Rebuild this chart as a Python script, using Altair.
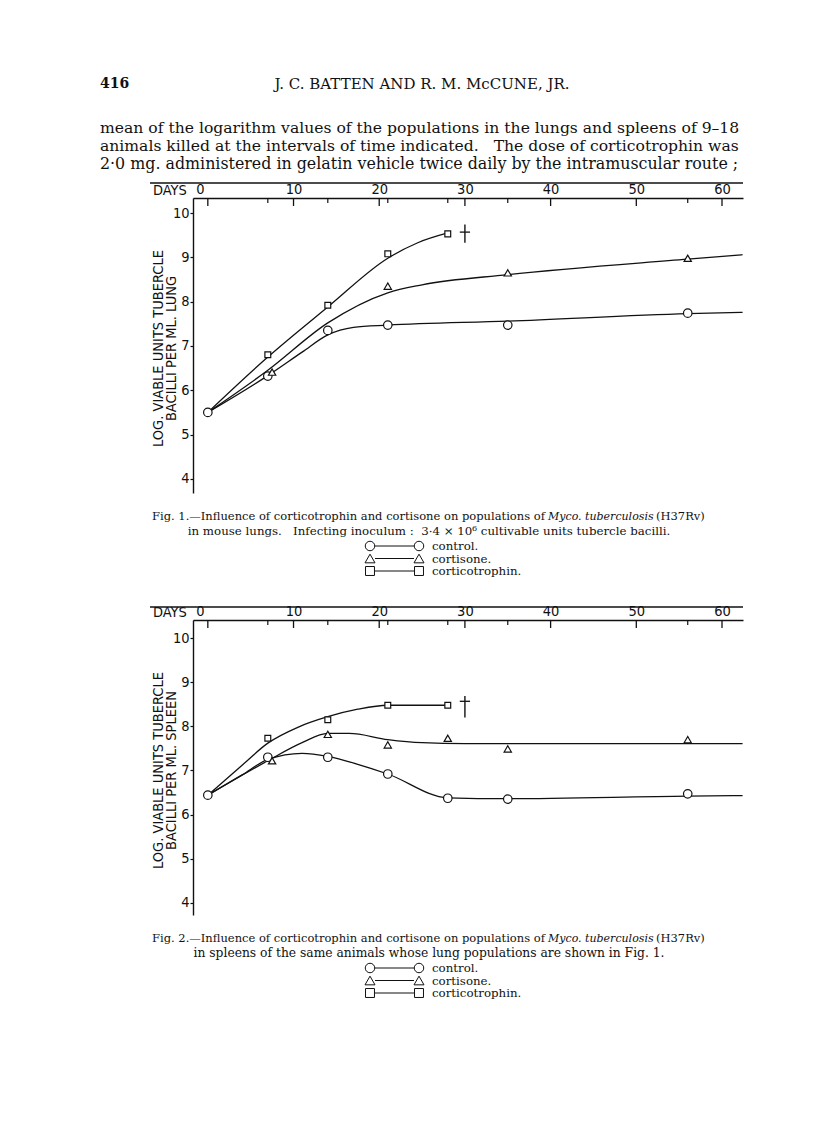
import altair as alt
import pandas as pd

# ---------------- data ----------------
SERIES = ["control", "cortisone", "corticotrophin"]

# Fig. 1 (lungs) – plotted symbols
lung_control_days = [0, 7, 14, 21, 35, 56]
lung_control_vals = [5.50, 6.32, 7.35, 7.47, 7.47, 7.74]
lung_cortisone_days = [7.5, 21, 35, 56]
lung_cortisone_vals = [6.41, 8.35, 8.65, 8.98]
lung_cortico_days = [7, 14, 21, 28]
lung_cortico_vals = [6.80, 7.92, 9.08, 9.53]
# Fig. 1 – hand-drawn curves
lung_control_curve_days = [0, 7, 11, 14, 17, 21, 35, 56, 62.4]
lung_control_curve_vals = [5.50, 6.33, 6.86, 7.25, 7.42, 7.47, 7.56, 7.73, 7.76]
lung_cortisone_curve_days = [0, 7, 14, 21, 25, 35, 56, 62.4]
lung_cortisone_curve_vals = [5.50, 6.45, 7.52, 8.20, 8.38, 8.61, 8.96, 9.06]
lung_cortico_curve_days = [0, 7, 14, 21, 24.5, 28]
lung_cortico_curve_vals = [5.50, 6.75, 7.88, 8.98, 9.33, 9.55]
lung_dagger = {"day": 30, "top": 9.74, "bottom": 9.33, "bar": 9.57}

# Fig. 2 (spleens) – plotted symbols
spleen_control_days = [0, 7, 14, 21, 28, 35, 56]
spleen_control_vals = [6.44, 7.30, 7.30, 6.92, 6.37, 6.35, 6.47]
spleen_cortisone_days = [7.5, 14, 21, 28, 35, 56]
spleen_cortisone_vals = [7.22, 7.82, 7.58, 7.73, 7.49, 7.70]
spleen_cortico_days = [7, 14, 21, 28]
spleen_cortico_vals = [7.73, 8.15, 8.48, 8.48]
# Fig. 2 – hand-drawn curves
spleen_control_curve_days = [0, 4, 7, 11, 14, 17.5, 21, 28, 35, 56, 62.4]
spleen_control_curve_vals = [6.44, 6.90, 7.25, 7.39, 7.32, 7.14, 6.92, 6.38, 6.36, 6.42, 6.43]
spleen_cortisone_curve_days = [0, 7, 11, 14, 16.5, 21, 25, 30, 62.4]
spleen_cortisone_curve_vals = [6.44, 7.22, 7.63, 7.84, 7.84, 7.70, 7.63, 7.61, 7.61]
spleen_cortico_curve_days = [0, 4, 7, 10.5, 14, 17.5, 21, 28]
spleen_cortico_curve_vals = [6.44, 7.12, 7.62, 7.98, 8.22, 8.39, 8.48, 8.48]
spleen_dagger = {"day": 30, "top": 8.69, "bottom": 8.20, "bar": 8.57}

x_label_values = [0, 10, 20, 30, 40, 50, 60]
major_tick_days = [0, 10, 20, 30, 40, 50, 60]
minor_tick_days = [7, 14, 21, 28, 35, 56]
y_label_values = [4, 5, 6, 7, 8, 9, 10]

NB = "\u00a0"
header_number = "416"
header_authors = "J. C. BATTEN AND R. M. McCUNE, JR."
paragraph = [
    "mean of the logarithm values of the populations in the lungs and spleens of 9\u201318",
    "animals killed at the intervals of time indicated." + NB + NB + " The dose of corticotrophin was",
    "2\u00b70 mg. administered in gelatin vehicle twice daily by the intramuscular route ;",
]
fig1_caption = [
    "Fig. 1.\u2014Influence of corticotrophin and cortisone on populations of",
    "Myco. tuberculosis",
    "(H37Rv)",
    "in mouse lungs." + NB + NB + " Infecting inoculum :" + NB + " 3\u00b74 \u00d7 10\u2076 cultivable units tubercle bacilli.",
]
fig2_caption = [
    "Fig. 2.\u2014Influence of corticotrophin and cortisone on populations of",
    "Myco. tuberculosis",
    "(H37Rv)",
    "in spleens of the same animals whose lung populations are shown in Fig. 1.",
]
legend_labels = ["control.", "cortisone.", "corticotrophin."]
lung_title = ["LOG. VIABLE UNITS TUBERCLE", "BACILLI PER ML. LUNG"]
spleen_title = ["LOG. VIABLE UNITS TUBERCLE", "BACILLI PER ML. SPLEEN"]

# ---------------- styling ----------------
INK = "#111111"
SANS = "DejaVu Sans Condensed, Liberation Sans Narrow, Liberation Sans, sans-serif"
SERIF = "DejaVu Serif, serif"
W, H = 550, 295
XDOM = [-1.73, 62.45]
SHAPES = ["circle", "triangle-up", "square"]
SIZES = [72, 34, 40]
ONE = alt.Data(values=[{"k": 0}])


def frame(days, vals, series):
    return pd.DataFrame({"day": days, "value": vals, "series": series})


def txt(s, x, y, size=14, font=SERIF, align="left", style="normal", weight="normal"):
    return alt.Chart(ONE).mark_text(
        text=s, align=align, baseline="middle", font=font, fontSize=size,
        fontStyle=style, fontWeight=weight, color=INK,
    ).encode(x=alt.value(x), y=alt.value(y))


def panel(points, curves, dagger, ydom, ytitle, caption, cap2_size, border_y, page_text=False):
    xaxis = alt.Axis(
        orient="top", values=x_label_values, title=None, ticks=False, tickSize=0,
        grid=False, labelFont=SANS, labelFontSize=14.5, labelPadding=2, labelAngle=0,
        labelColor=INK, labelFlush=False, domainColor=INK, domainWidth=1.4,
        labelOffset={"condition": {"test": "datum.value === 0", "value": -8}, "value": 0},
    )
    xscale = alt.Scale(domain=XDOM, nice=False, zero=False)
    X = alt.X("day:Q", scale=xscale, axis=xaxis)
    yaxis = alt.Axis(
        values=y_label_values, title=ytitle, grid=False, labelFont=SANS, labelFontSize=14.5,
        labelColor=INK, labelPadding=1, tickSize=3, tickWidth=1.2, tickColor=INK,
        domainColor=INK, domainWidth=1.4, titleFont=SANS, titleFontSize=14.5,
        titleFontWeight="normal", titleLineHeight=13.5, titleColor=INK,
        titleX=-28, titleY=150, titleAngle=270, titleAlign="center", titleBaseline="bottom",
    )
    yscale = alt.Scale(domain=ydom, nice=False, zero=False)

    layers = []
    layers.append(
        alt.Chart(curves).mark_line(interpolate="monotone", color=INK, strokeWidth=1.3)
        .encode(x=X, y=alt.Y("value:Q", scale=yscale, axis=yaxis), detail="series:N")
    )
    layers.append(
        alt.Chart(points).mark_point(fill="white", stroke=INK, strokeWidth=1.2, opacity=1, fillOpacity=1)
        .encode(
            x=X, y=alt.Y("value:Q", scale=yscale, axis=yaxis),
            shape=alt.Shape("series:N", scale=alt.Scale(domain=SERIES, range=SHAPES), legend=None),
            size=alt.Size("series:N", scale=alt.Scale(domain=SERIES, range=SIZES), legend=None),
        )
    )
    ddf = pd.DataFrame({"day": [dagger["day"]], "top": [dagger["top"]], "bottom": [dagger["bottom"]],
                        "bar": [dagger["bar"]]})
    ddf["left"] = ddf["day"] - 0.6
    ddf["right"] = ddf["day"] + 0.6
    layers.append(
        alt.Chart(ddf).mark_rule(color=INK, strokeWidth=1.4)
        .encode(x=X, y=alt.Y("top:Q", scale=yscale, axis=yaxis), y2="bottom:Q")
    )
    layers.append(
        alt.Chart(ddf).mark_rule(color=INK, strokeWidth=1.3)
        .encode(x=alt.X("left:Q", scale=xscale, axis=xaxis),
                x2="right:Q", y=alt.Y("bar:Q", scale=yscale, axis=yaxis))
    )
    # inward ticks on the DAYS axis
    layers.append(
        alt.Chart(pd.DataFrame({"day": major_tick_days})).mark_rule(color=INK, strokeWidth=1.3)
        .encode(x=X, y=alt.value(0), y2=alt.value(8))
    )
    layers.append(
        alt.Chart(pd.DataFrame({"day": minor_tick_days})).mark_rule(color=INK, strokeWidth=1.2)
        .encode(x=X, y=alt.value(0), y2=alt.value(5))
    )
    # top frame line and DAYS label
    layers.append(
        alt.Chart(ONE).mark_rule(color=INK, strokeWidth=1.3)
        .encode(x=alt.value(-43), x2=alt.value(W), y=alt.value(border_y))
    )
    layers.append(txt("DAYS", -40, -7, size=14.5, font=SANS))

    # caption
    layers.append(txt(caption[0], -41, 319, size=11.5))
    layers.append(txt(caption[1], 355, 319, size=11, style="italic"))
    layers.append(txt(caption[2], 463, 319, size=11.5))
    layers.append(txt(caption[3], 236, 333, size=cap2_size, align="center"))
    # legend
    for i, (lab, shp) in enumerate(zip(legend_labels, SHAPES)):
        yy = 348 + i * 12.5
        layers.append(
            alt.Chart(ONE).mark_rule(color=INK, strokeWidth=1.1)
            .encode(x=alt.value(182), x2=alt.value(221), y=alt.value(yy))
        )
        for xx in (177, 226):
            layers.append(
                alt.Chart(ONE).mark_point(shape=shp, size=[90, 100, 80][i], fill="white", stroke=INK,
                                          strokeWidth=1.0, opacity=1, fillOpacity=1)
                .encode(x=alt.value(xx), y=alt.value(yy))
            )
        layers.append(txt(lab, 239, yy, size=11.8))

    if page_text:
        # invisible anchor fixing the page origin
        layers.append(
            alt.Chart(ONE).mark_rule(strokeOpacity=0, strokeWidth=0.01)
            .encode(x=alt.value(-185), x2=alt.value(-184), y=alt.value(-190), y2=alt.value(-190))
        )
        layers.append(txt(header_number, -93, -114, size=14, weight="bold"))
        layers.append(txt(header_authors, 229, -114, size=15, align="center"))
        for i, (line, sz) in enumerate(zip(paragraph, [15.6, 15.6, 15.85])):
            layers.append(txt(line, -93, -70 + 18 * i, size=sz))

    return alt.layer(*layers).properties(width=W, height=H)


lung_points = pd.concat([
    frame(lung_control_days, lung_control_vals, "control"),
    frame(lung_cortisone_days, lung_cortisone_vals, "cortisone"),
    frame(lung_cortico_days, lung_cortico_vals, "corticotrophin"),
])
lung_curves = pd.concat([
    frame(lung_control_curve_days, lung_control_curve_vals, "control"),
    frame(lung_cortisone_curve_days, lung_cortisone_curve_vals, "cortisone"),
    frame(lung_cortico_curve_days, lung_cortico_curve_vals, "corticotrophin"),
])
spleen_points = pd.concat([
    frame(spleen_control_days, spleen_control_vals, "control"),
    frame(spleen_cortisone_days, spleen_cortisone_vals, "cortisone"),
    frame(spleen_cortico_days, spleen_cortico_vals, "corticotrophin"),
])
spleen_curves = pd.concat([
    frame(spleen_control_curve_days, spleen_control_curve_vals, "control"),
    frame(spleen_cortisone_curve_days, spleen_cortisone_curve_vals, "cortisone"),
    frame(spleen_cortico_curve_days, spleen_cortico_curve_vals, "corticotrophin"),
])

p1 = panel(lung_points, lung_curves, lung_dagger, [3.68, 10.34], lung_title, fig1_caption, 11.8, -15,
           page_text=True)
p2 = panel(spleen_points, spleen_curves, spleen_dagger, [3.72, 10.415], spleen_title, fig2_caption, 12.3, -13)

chart = (
    alt.vconcat(p1, p2, spacing=127, bounds="flush")
    .resolve_scale(y="independent", x="independent")
    .properties(padding=0, background="white")
    .configure_view(stroke=None)
)

chart.save("out.html", embed_options={"renderer": "svg", "actions": False})
